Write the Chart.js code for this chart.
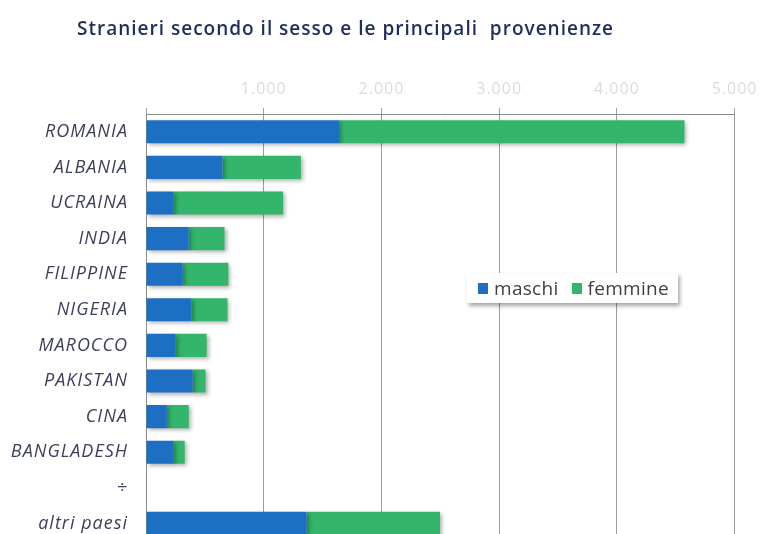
<!DOCTYPE html>
<html>
<head>
<meta charset="utf-8">
<script src="https://cdn.jsdelivr.net/npm/chart.js@4"></script>
<style>
  html, body { margin: 0; padding: 0; background: #fff; overflow: hidden; }
  #wrap { position: relative; width: 764px; height: 570px; }
  #title {
    position: absolute; left: 77px; top: 15px; white-space: pre; letter-spacing: 1px;
    font: 600 19px "Open Sans", sans-serif; color: #1f2d5e;
  }
  #legend {
    position: absolute; left: 467px; top: 273px; width: 211px; height: 30px;
    background: #fff; box-shadow: 2px 3px 4px rgba(0,0,0,0.35);
    font: 19px "Open Sans", sans-serif; color: #404040; letter-spacing: 0.3px;
    display: flex; align-items: center; z-index: 2;
  }
  #legend span.box { display: inline-block; width: 10px; height: 11px; margin: 0 6px 0 11px; }
</style>
</head>
<body>
<div id="wrap">
  <canvas id="chart" width="764" height="570"></canvas>
  <div id="title">Stranieri secondo il sesso e le principali  provenienze</div>
  <div id="legend"></div>
</div>
<script>
// dati
const paesi = ['ROMANIA', 'ALBANIA', 'UCRAINA', 'INDIA', 'FILIPPINE', 'NIGERIA',
  'MAROCCO', 'PAKISTAN', 'CINA', 'BANGLADESH', '÷', 'altri paesi'];
const maschi = [1640, 650, 236, 363, 312, 388, 253, 397, 177, 236, null, 1365];
const femmine = [2934, 666, 929, 304, 388, 304, 262, 109, 186, 93, null, 1133];
const xTicks = [0, 1000, 2000, 3000, 4000, 5000];

const BLU = '#1d6fc4';
const VERDE = '#33b56b';

// ombra sotto le barre
const shadowPlugin = {
  id: 'barShadow',
  beforeDatasetsDraw(chart) {
    const ctx = chart.ctx;
    ctx.save();
    ctx.shadowColor = 'rgba(0,0,0,0.3)';
    ctx.shadowBlur = 4;
    ctx.shadowOffsetX = 2;
    ctx.shadowOffsetY = 2;
  },
  afterDatasetsDraw(chart) {
    chart.ctx.restore();
  }
};

// un po' di spaziatura tra le lettere delle etichette
const spacingPlugin = {
  id: 'letterSpacing',
  beforeDraw(chart) { chart.ctx.letterSpacing = '1px'; },
  afterDraw(chart) { chart.ctx.letterSpacing = '0px'; }
};

new Chart(document.getElementById('chart'), {
  type: 'bar',
  data: {
    labels: paesi,
    datasets: [
      { label: 'maschi', data: maschi, backgroundColor: BLU },
      { label: 'femmine', data: femmine, backgroundColor: VERDE }
    ]
  },
  options: {
    indexAxis: 'y',
    responsive: false,
    animation: false,
    layout: { padding: { left: 0, right: 26, top: 0, bottom: 0 } },
    datasets: { bar: { categoryPercentage: 1, barPercentage: 0.65 } },
    plugins: {
      legend: { display: false },
      tooltip: { enabled: false }
    },
    scales: {
      x: {
        position: 'top',
        stacked: true,
        min: 0,
        max: 5000,
        z: 1,
        afterBuildTicks: s => { s.ticks = xTicks.map(v => ({ value: v })); },
        afterFit: s => { s.height = 114; },
        grid: { color: 'rgba(90,90,90,0.6)', lineWidth: 1, tickLength: 6 },
        border: { color: '#8a8a8a' },
        ticks: {
          padding: 9,
          color: '#dcdcdc',
          font: { family: 'Open Sans', size: 16 },
          callback: v => v === 0 ? '' : v.toLocaleString('it-IT')
        }
      },
      y: {
        stacked: true,
        afterFit: s => { s.width = 146; },
        grid: { display: false, drawTicks: false },
        border: { display: true, color: '#8a8a8a' },
        ticks: {
          padding: 18,
          color: '#3b3f5a',
          font: { family: 'Open Sans', size: 18, style: 'italic' }
        }
      }
    }
  },
  plugins: [shadowPlugin, spacingPlugin]
});

// legenda html
const legend = document.getElementById('legend');
[['maschi', BLU], ['femmine', VERDE]].forEach(([nome, col], i) => {
  const b = document.createElement('span');
  b.className = 'box';
  b.style.background = col;
  if (i > 0) b.style.marginLeft = '13px';
  legend.appendChild(b);
  legend.appendChild(document.createTextNode(nome));
});
</script>
</body>
</html>
